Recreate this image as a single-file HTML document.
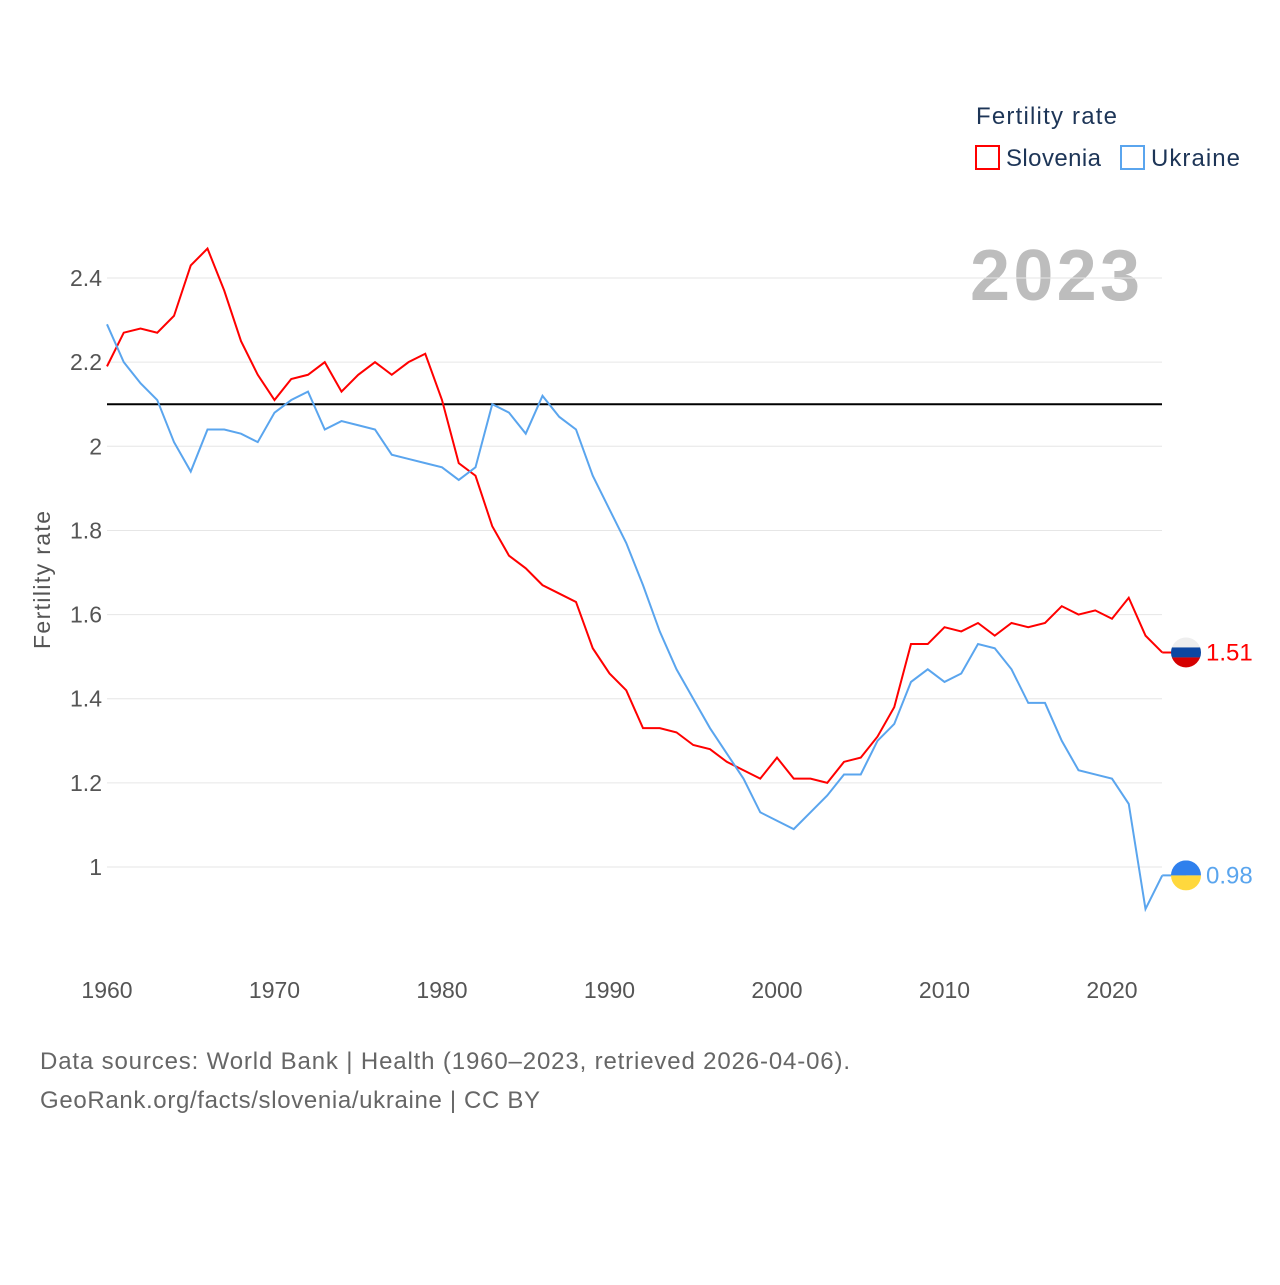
<!DOCTYPE html>
<html><head><meta charset="utf-8"><style>
body{margin:0;background:#fff;font-family:"Liberation Sans",sans-serif}
svg text{font-family:"Liberation Sans",sans-serif}
</style></head><body>
<svg width="1280" height="1280">
<text x="976" y="124" font-size="24" fill="#1d3557" textLength="141">Fertility rate</text>
<rect x="976" y="146" width="23" height="23" fill="none" stroke="#f00" stroke-width="2"/>
<text x="1006" y="166" font-size="24" fill="#1d3557" textLength="95">Slovenia</text>
<rect x="1121" y="146" width="23" height="23" fill="none" stroke="#5aa5ee" stroke-width="2"/>
<text x="1151" y="166" font-size="24" fill="#1d3557" textLength="89">Ukraine</text>
<text x="1140" y="300" font-size="72" font-weight="bold" fill="#bdbdbd" text-anchor="end" textLength="170">2023</text>
<g id="grid"></g><g id="yt"></g><g id="xt"></g>
<text transform="translate(50,580) rotate(-90)" font-size="23" fill="#555" text-anchor="middle" textLength="138">Fertility rate</text>
<g id="lines"></g>
<text x="40" y="1069" font-size="24" fill="#666" textLength="810">Data sources: World Bank | Health (1960–2023, retrieved 2026-04-06).</text>
<text x="40" y="1108" font-size="24" fill="#666" textLength="500">GeoRank.org/facts/slovenia/ukraine | CC BY</text>
</svg>
<script>
const years=[];for(let y=1960;y<=2023;y++)years.push(y);
const slovenia=[2.19,2.27,2.28,2.27,2.31,2.43,2.47,2.37,2.25,2.17,2.11,2.16,2.17,2.20,2.13,2.17,2.20,2.17,2.20,2.22,2.11,1.96,1.93,1.81,1.74,1.71,1.67,1.65,1.63,1.52,1.46,1.42,1.33,1.33,1.32,1.29,1.28,1.25,1.23,1.21,1.26,1.21,1.21,1.20,1.25,1.26,1.31,1.38,1.53,1.53,1.57,1.56,1.58,1.55,1.58,1.57,1.58,1.62,1.60,1.61,1.59,1.64,1.55,1.51];
const ukraine=[2.29,2.20,2.15,2.11,2.01,1.94,2.04,2.04,2.03,2.01,2.08,2.11,2.13,2.04,2.06,2.05,2.04,1.98,1.97,1.96,1.95,1.92,1.95,2.10,2.08,2.03,2.12,2.07,2.04,1.93,1.85,1.77,1.67,1.56,1.47,1.40,1.33,1.27,1.21,1.13,1.11,1.09,1.13,1.17,1.22,1.22,1.30,1.34,1.44,1.47,1.44,1.46,1.53,1.52,1.47,1.39,1.39,1.30,1.23,1.22,1.21,1.15,0.90,0.98];
const yTicks=[1,1.2,1.4,1.6,1.8,2,2.2,2.4];
const xTicks=[1960,1970,1980,1990,2000,2010,2020];
const refValue=2.1;
const X=y=>107+(y-1960)*16.75, Y=v=>867-(v-1)*420.7;
const NS="http://www.w3.org/2000/svg";
function mk(t,a,p,txt){const e=document.createElementNS(NS,t);for(const k in a)e.setAttribute(k,a[k]);if(txt!=null)e.textContent=txt;document.getElementById(p)?document.getElementById(p).appendChild(e):p.appendChild(e);return e;}
yTicks.forEach(v=>{
 const l=mk('line',{x1:107,x2:1162,y1:Y(v),y2:Y(v),stroke:'#e6e6e6','stroke-width':1},'grid');
 
 
 const t=mk('text',{x:102,y:Y(v)+8,'font-size':23,fill:'#555','text-anchor':'end'},'yt',String(v));
 
 
});
xTicks.forEach(v=>{
 const t=mk('text',{x:X(v),y:998,'font-size':23,fill:'#555','text-anchor':'middle'},'xt',String(v));
 
 
});
const r=mk('line',{x1:107,x2:1162,y1:Y(refValue),y2:Y(refValue),stroke:'#000','stroke-width':2},'lines');


function series(d,c,name){
 const p=mk('polyline',{points:d.map((v,i)=>X(years[i])+','+Y(v)).join(' '),fill:'none',stroke:c,'stroke-width':2},'lines');
 
 
 const last=d[d.length-1],lx=X(years[years.length-1]),ly=Y(last);
 mk('line',{x1:lx,x2:lx+24,y1:ly,y2:ly,stroke:c,'stroke-width':2},'lines');
 return {last,ly};
}
const s=series(slovenia,'#f00','slovenia');
const u=series(ukraine,'#5aa5ee','ukraine');
const g=document.getElementById('lines');
mk('clipPath',{id:'c1'},g);mk('circle',{cx:1186,cy:s.ly,r:15},document.getElementById('c1'));
const f1=mk('g',{'clip-path':'url(#c1)'},g);


mk('rect',{x:1171,y:s.ly-15,width:30,height:10,fill:'#eee'},f1);
mk('rect',{x:1171,y:s.ly-5,width:30,height:10,fill:'#0d47a1'},f1);
mk('rect',{x:1171,y:s.ly+5,width:30,height:10,fill:'#d50000'},f1);
const t1=mk('text',{x:1206,y:s.ly+8,'font-size':24,fill:'#f00'},g,s.last.toFixed(2));


mk('clipPath',{id:'c2'},g);mk('circle',{cx:1186,cy:u.ly,r:15},document.getElementById('c2'));
const f2=mk('g',{'clip-path':'url(#c2)'},g);


mk('rect',{x:1171,y:u.ly-15,width:30,height:15,fill:'#2f80ed'},f2);
mk('rect',{x:1171,y:u.ly,width:30,height:15,fill:'#ffd83d'},f2);
const t2=mk('text',{x:1206,y:u.ly+8,'font-size':24,fill:'#5aa5ee'},g,u.last.toFixed(2));


</script>
</body></html>
